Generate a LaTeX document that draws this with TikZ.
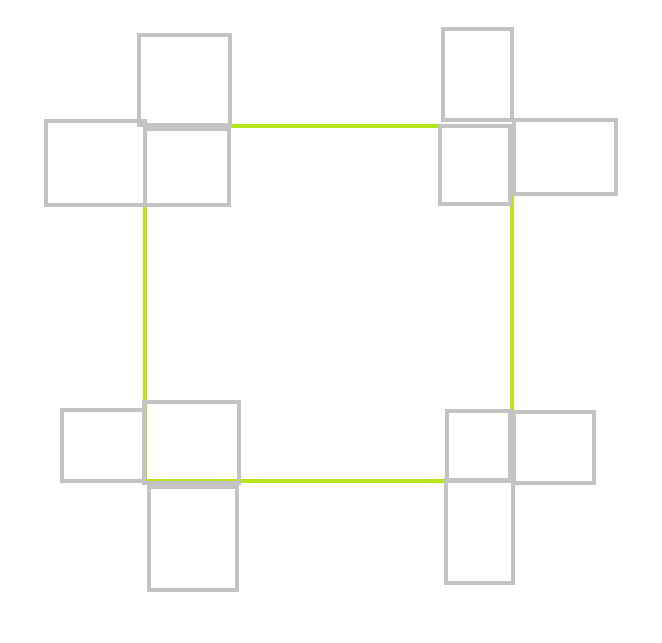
\documentclass[tikz,border=0pt]{standalone}
\usepackage{xcolor}
\usepackage{tikz}
\definecolor{boxgray}{RGB}{195,195,195}
\definecolor{linkgreen}{RGB}{181,230,29}

\begin{document}
\begin{tikzpicture}[
  x=1pt,y=-1pt,
  box/.style={draw=boxgray,line width=4pt,inner sep=0pt,outer sep=0pt},
  link/.style={draw=linkgreen,line width=4pt}
]
  \useasboundingbox (0,0) rectangle (662,643);
  % corners of the square
  \coordinate (cTL) at (145.3,126.3);
  \coordinate (cTR) at (512.3,126.3);
  \coordinate (cBR) at (512.3,481.3);
  \coordinate (cBL) at (145.3,481.3);
  \draw[link] (cTL) -- (cTR) -- (cBR) -- (cBL) -- cycle;
  % top left group
  \node[box,minimum width=90.4,minimum height=89.4] (tlTop) at (184.5,80) {};
  \node[box,minimum width=83.7,minimum height=76] (tlMid) at (186.9,167) {};
  \node[box,minimum width=99,minimum height=83.7] (tlLeft) at (95.5,163.2) {};
  % top right group
  \node[box,minimum width=68.7,minimum height=90.4] (trTop) at (477.3,74.5) {};
  \node[box,minimum width=69.7,minimum height=78] (trMid) at (474.8,164.7) {};
  \node[box,minimum width=102,minimum height=73.7] (trRight) at (565,156.8) {};
  % bottom left group
  \node[box,minimum width=95,minimum height=80.7] (blMid) at (191.5,442.3) {};
  \node[box,minimum width=82,minimum height=70.7] (blLeft) at (103,445.3) {};
  \node[box,minimum width=88.3,minimum height=103.3] (blBot) at (192.8,538.3) {};
  % bottom right group
  \node[box,minimum width=62.7,minimum height=69.7] (brMid) at (478.3,445.8) {};
  \node[box,minimum width=80,minimum height=70.4] (brRight) at (553.7,447.5) {};
  \node[box,minimum width=67,minimum height=102.4] (brBot) at (479.5,531.5) {};
\end{tikzpicture}
\end{document}
